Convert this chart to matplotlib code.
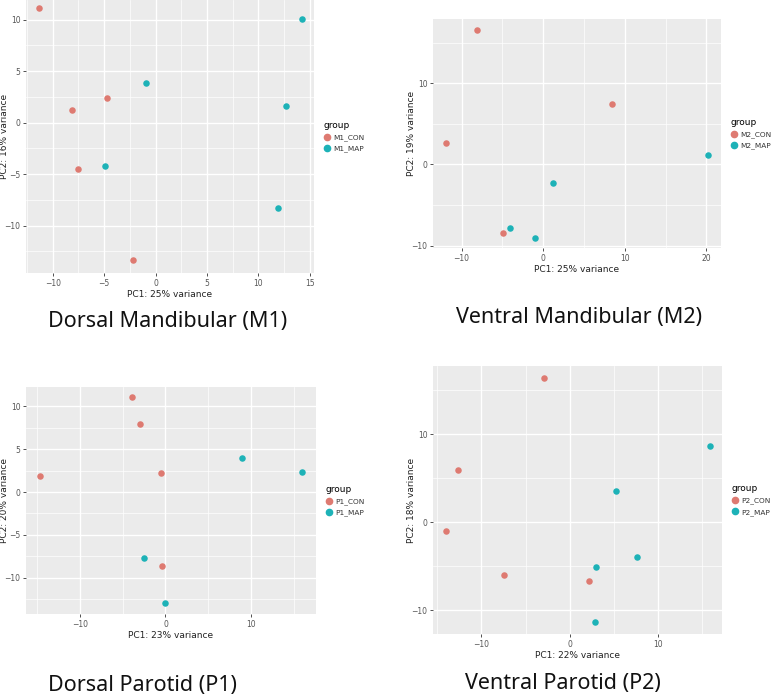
import matplotlib
matplotlib.use('Agg')
import matplotlib.pyplot as plt
from matplotlib.lines import Line2D
from matplotlib.ticker import MultipleLocator

# PCA scores
m1_con_x = [-11.3, -8.1, -4.7, -7.5, -2.2]
m1_con_y = [11.1, 1.2, 2.4, -4.5, -13.3]
m1_map_x = [-0.9, -4.9, 14.2, 12.7, 11.9]
m1_map_y = [3.85, -4.2, 10.1, 1.65, -8.3]

m2_con_x = [-8.1, 8.4, -11.9, -4.9]
m2_con_y = [16.6, 7.4, 2.6, -8.5]
m2_map_x = [1.15, -4.1, -1.0, 20.25]
m2_map_y = [-2.3, -7.8, -9.05, 1.1]

p1_con_x = [-3.9, -3.0, -14.7, -0.5, -0.4]
p1_con_y = [11.1, 7.9, 1.9, 2.25, -8.6]
p1_map_x = [8.9, -2.5, 0.0, 16.0]
p1_map_y = [3.95, -7.75, -13.0, 2.35]

p2_con_x = [-2.9, -12.7, -14.0, -7.4, 2.2]
p2_con_y = [16.4, 5.9, -1.0, -6.0, -6.7]
p2_map_x = [5.3, 7.7, 3.0, 2.85, 15.9]
p2_map_y = [3.55, -4.0, -5.05, -11.35, 8.65]

con_color = '#DE7A71'
map_color = '#1DB2B7'

W, H = 778, 698
fig = plt.figure(figsize=(W / 100, H / 100), dpi=100)

# box = left, right, top, bottom of the plot area in pixels
panels = [
    dict(box=(26, 314, 0, 273), xlim=(-12.6, 15.4), ylim=(-14.6, 11.9), xs=5, ys=5,
         pc1=25, pc2=16, tag='M1', cap='Dorsal Mandibular (M1)', cap_xy=(168, 322),
         data=(m1_con_x, m1_con_y, m1_map_x, m1_map_y)),
    dict(box=(433, 721, 19, 248), xlim=(-13.5, 21.8), ylim=(-10.3, 17.9), xs=10, ys=10,
         pc1=25, pc2=19, tag='M2', cap='Ventral Mandibular (M2)', cap_xy=(579, 318),
         data=(m2_con_x, m2_con_y, m2_map_x, m2_map_y)),
    dict(box=(26, 316, 387, 614), xlim=(-16.3, 17.6), ylim=(-14.25, 12.27), xs=10, ys=5,
         pc1=23, pc2=20, tag='P1', cap='Dorsal Parotid (P1)', cap_xy=(142, 685),
         data=(p1_con_x, p1_con_y, p1_map_x, p1_map_y)),
    dict(box=(433, 722, 366, 634), xlim=(-15.5, 17.3), ylim=(-12.7, 17.76), xs=10, ys=10,
         pc1=22, pc2=18, tag='P2', cap='Ventral Parotid (P2)', cap_xy=(563, 683),
         data=(p2_con_x, p2_con_y, p2_map_x, p2_map_y)),
]

for p in panels:
    l, r, t, b = p['box']
    ax = fig.add_axes([l / W, 1 - b / H, (r - l) / W, (b - t) / H])
    ax.set_facecolor('#EBEBEB')
    for s in ax.spines.values():
        s.set_visible(False)
    ax.xaxis.set_major_locator(MultipleLocator(p['xs']))
    ax.yaxis.set_major_locator(MultipleLocator(p['ys']))
    ax.xaxis.set_minor_locator(MultipleLocator(p['xs'] / 2))
    ax.yaxis.set_minor_locator(MultipleLocator(p['ys'] / 2))
    ax.grid(which='major', color='white', linewidth=1.0)
    ax.grid(which='minor', color='white', linewidth=0.5)
    ax.set_axisbelow(True)
    ax.tick_params(which='major', length=2.5, width=0.6, color='#333333',
                   labelsize=5.5, labelcolor='#555555', pad=1.5)
    ax.tick_params(which='minor', length=0)

    cx, cy, mx, my = p['data']
    ax.scatter(cx, cy, s=22, color=con_color, linewidths=0, zorder=3)
    ax.scatter(mx, my, s=22, color=map_color, linewidths=0, zorder=3)
    ax.set_xlim(*p['xlim'])
    ax.set_ylim(*p['ylim'])

    ax.set_xlabel('PC1: %d%% variance' % p['pc1'], fontsize=6.5, color='#222222', labelpad=2)
    ax.set_ylabel('PC2: %d%% variance' % p['pc2'], fontsize=6.5, color='#222222')
    ax.yaxis.set_label_coords(-21 / (r - l), 0.5)
    ax.yaxis.label.set_va('center')

    handles = [Line2D([], [], marker='o', linestyle='', markersize=4.5, color=con_color),
               Line2D([], [], marker='o', linestyle='', markersize=4.5, color=map_color)]
    leg = ax.legend(handles, [p['tag'] + '_CON', p['tag'] + '_MAP'], title='group',
                    loc='center left', bbox_to_anchor=(1.02, 0.5), frameon=False,
                    fontsize=5.3, title_fontsize=6.5, handletextpad=0.3,
                    handlelength=1.0, labelspacing=0.6, borderpad=0)
    leg._legend_box.align = 'left'
    for txt in leg.get_texts():
        txt.set_color('#333333')

    fig.text(p['cap_xy'][0] / W, 1 - p['cap_xy'][1] / H, p['cap'],
             fontsize=15.5, family='Noto Sans', color='#111111',
             ha='center', va='center')

fig.savefig('out.png', dpi=100)
